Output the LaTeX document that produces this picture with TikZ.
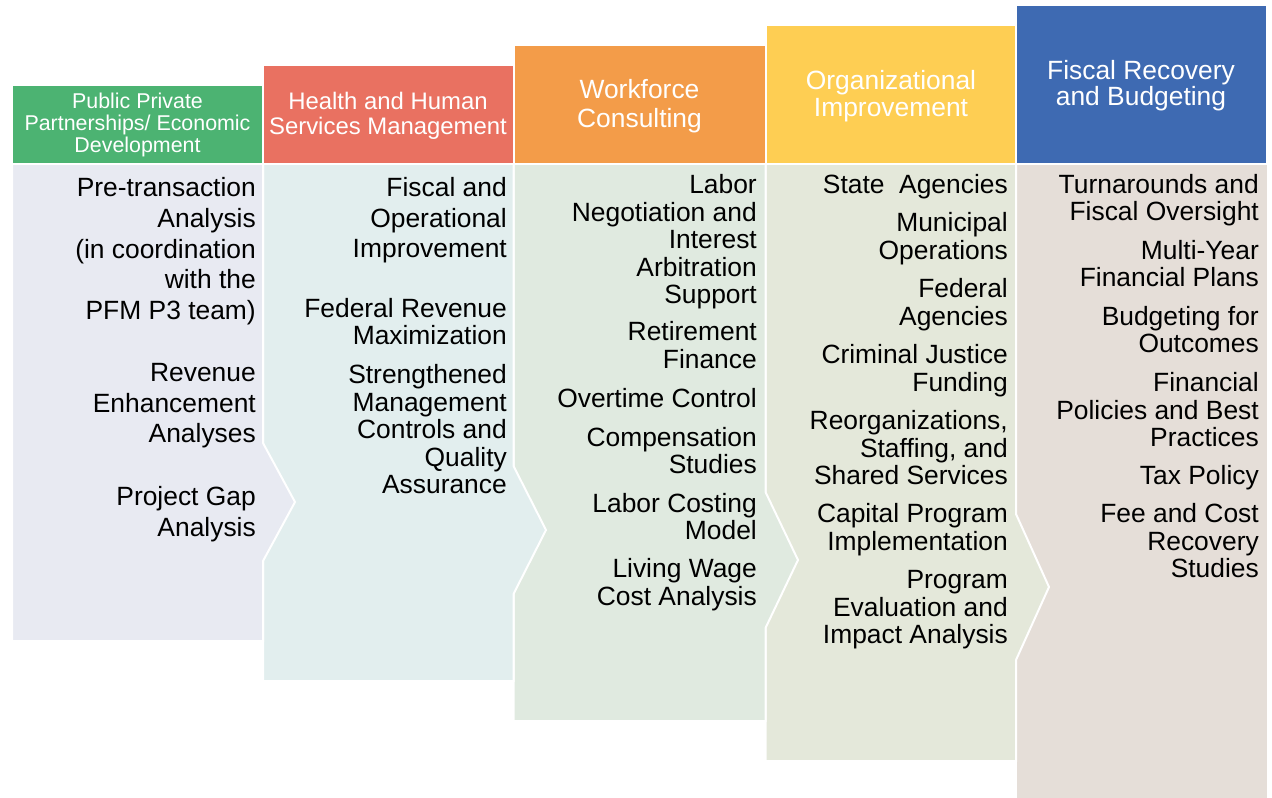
\documentclass[tikz,border=0pt]{standalone}
\usepackage{fontspec}
\setmainfont{Liberation Sans}
\definecolor{hA}{RGB}{76,179,114}
\definecolor{hB}{RGB}{233,113,97}
\definecolor{hC}{RGB}{243,156,73}
\definecolor{hD}{RGB}{254,206,83}
\definecolor{hE}{RGB}{62,106,178}
\definecolor{bA}{RGB}{232,234,242}
\definecolor{bB}{RGB}{226,238,238}
\definecolor{bC}{RGB}{224,234,224}
\definecolor{bD}{RGB}{228,232,218}
\definecolor{bE}{RGB}{229,222,216}
\begin{document}
\begin{tikzpicture}[x=1pt,y=-1pt,
  hdrbox/.style={fill=#1, draw=white, line width=2pt},
  bodybox/.style={fill=#1, draw=white, line width=2pt, line join=miter},
  htxt/.style n args={2}{text=white, align=center, anchor=base, inner sep=0pt, font=\fontsize{#1}{#2}\selectfont},
  btxt/.style={text=black, align=right, anchor=base east, inner sep=0pt, font=\fontsize{26.4}{#1}\selectfont}]
\useasboundingbox (0,0) rectangle (1272,798);
\fill[white] (0,0) rectangle (1272,798);

% bodies (drawn right to left so chevrons overlap the next column)
\path[bodybox=bE] (1016,163.5) -- (1268,163.5) -- (1268,800) -- (1016,800) -- cycle;
\path[bodybox=bD] (765.5,163.5) -- (1016,163.5) -- (1016,514) -- (1049,587) -- (1016,660) -- (1016,761) -- (765.5,761) -- cycle;
\path[bodybox=bC] (513.5,163.5) -- (765.5,163.5) -- (765.5,492) -- (798,560) -- (765.5,628) -- (765.5,721) -- (513.5,721) -- cycle;
\path[bodybox=bB] (263,163.5) -- (513.5,163.5) -- (513.5,466) -- (546,530) -- (513.5,594) -- (513.5,681) -- (263,681) -- cycle;
\path[bodybox=bA] (12,163.5) -- (263,163.5) -- (263,443) -- (295,502) -- (263,561) -- (263,641) -- (12,641) -- cycle;

% headers
\path[hdrbox=hA] (12,85) rectangle (263,163.5);
\path[hdrbox=hB] (263,65) rectangle (513.5,163.5);
\path[hdrbox=hC] (513.5,45) rectangle (765.5,163.5);
\path[hdrbox=hD] (765.5,25) rectangle (1016,163.5);
\path[hdrbox=hE] (1016,5) rectangle (1267,163.5);

% (anchor base = baseline of the last line)
\node[htxt={21.4}{22}] (h1) at (137.5,152) {Public Private\\Partnerships/ Economic\\Development};
\node[htxt={23.9}{25}] (h2) at (388,134.5) {Health and Human\\Services Management};
\node[htxt={26.4}{28.5}] (h3) at (639.5,127) {Workforce\\Consulting};
\node[htxt={26.4}{27}] (h4) at (891,116) {Organizational\\Improvement};
\node[htxt={26.4}{26.5}] (h5) at (1141,105.5) {Fiscal Recovery\\and Budgeting};

% column 1
\node[btxt=30.75] (a1) at (256,319.5) {Pre-transaction\\Analysis\\(in coordination\\with the\\PFM P3 team)};
\node[btxt=30.5] (a2) at (256,442.5) {Revenue\\Enhancement\\Analyses};
\node[btxt=31] (a3) at (256,536.5) {Project Gap\\Analysis};

% column 2
\node[btxt=30.5] (b1) at (507,257.5) {Fiscal and\\Operational\\Improvement};
\node[btxt=27] (b2) at (507,344.5) {Federal Revenue\\Maximization};
\node[btxt=27.5] (b3) at (507,493.5) {Strengthened\\Management\\Controls and\\Quality\\Assurance};

% column 3
\node[btxt=27.5] (c1) at (757,303.5) {Labor\\Negotiation and\\Interest\\Arbitration\\Support};
\node[btxt=28] (c2) at (757,368.5) {Retirement\\Finance};
\node[btxt=28] (c3) at (757,407.5) {Overtime Control};
\node[btxt=27] (c4) at (757,473.5) {Compensation\\Studies};
\node[btxt=27] (c5) at (757,539.5) {Labor Costing\\Model};
\node[btxt=28] (c6) at (757,605.5) {Living Wage\\Cost Analysis};

% column 4
\node[btxt=28] (d1) at (1008,193.5) {State\ \ Agencies};
\node[btxt=28] (d2) at (1008,259.5) {Municipal\\Operations};
\node[btxt=28] (d3) at (1008,325.5) {Federal\\Agencies};
\node[btxt=28] (d4) at (1008,391.5) {Criminal Justice\\Funding};
\node[btxt=27.5] (d5) at (1008,484.5) {Reorganizations,\\Staffing, and\\Shared Services};
\node[btxt=28] (d6) at (1008,550.5) {Capital Program\\Implementation};
\node[btxt=27.5] (d7) at (1008,643.5) {Program\\Evaluation and\\Impact Analysis};

% column 5
\node[btxt=27] (e1) at (1259,220.5) {Turnarounds and\\Fiscal Oversight};
\node[btxt=27] (e2) at (1259,286.5) {Multi-Year\\Financial Plans};
\node[btxt=27] (e3) at (1259,352.5) {Budgeting for\\Outcomes};
\node[btxt=27.5] (e4) at (1259,446.5) {Financial\\Policies and Best\\Practices};
\node[btxt=27.5] (e5) at (1259,484.5) {Tax Policy};
\node[btxt=27.5] (e6) at (1259,577.5) {Fee and Cost\\Recovery\\Studies};
\end{tikzpicture}
\end{document}
